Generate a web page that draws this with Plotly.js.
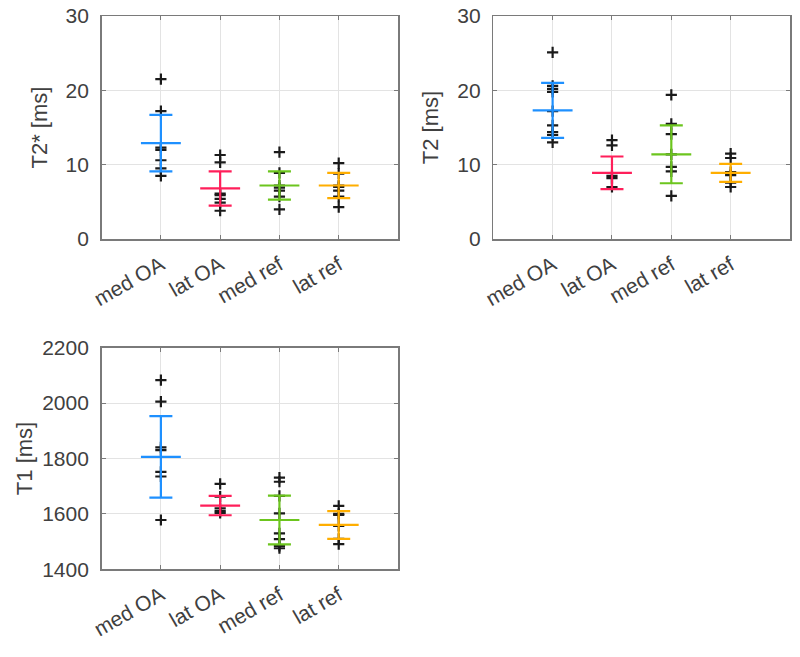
<!DOCTYPE html>
<html>
<head>
<meta charset="utf-8">
<script src="https://cdn.plot.ly/plotly-3.0.1.min.js"></script>
<style>html,body{margin:0;padding:0;background:#fff;}#chart{width:800px;height:657px;}</style>
</head>
<body>
<div id="chart"></div>
<script>
// Categories
const categories = ["med OA", "lat OA", "med ref", "lat ref"];
const groupColors = ["#1e90ff", "#ff1f5a", "#6cc51e", "#ffae00"];

// T2* [ms] individual values
const t2s_medOA = [21.5, 17.2, 12.3, 12.0, 10.6, 9.5, 8.5];
const t2s_latOA = [11.3, 10.3, 6.1, 5.9, 5.4, 4.9, 3.8];
const t2s_medRef = [11.7, 8.9, 7.2, 6.9, 6.5, 5.7, 4.0];
const t2s_latRef = [10.2, 8.8, 7.2, 7.0, 6.5, 5.7, 4.3];
const t2s_mean = [12.9, 6.8, 7.2, 7.2];
const t2s_sd = [3.8, 2.3, 1.9, 1.7];

// T2 [ms] individual values
const t2_medOA = [25.1, 20.6, 20.2, 19.8, 17.2, 15.3, 14.4, 14.0, 13.0];
const t2_latOA = [13.3, 12.6, 8.5, 8.2, 7.0];
const t2_medRef = [19.4, 15.5, 14.1, 11.4, 9.7, 9.1, 5.8];
const t2_latRef = [11.5, 10.9, 9.0, 8.6, 7.6, 7.0];
const t2_mean = [17.3, 8.9, 11.4, 8.9];
const t2_sd = [3.7, 2.2, 3.9, 1.2];

// T1 [ms] individual values
const t1_medOA = [2083, 2005, 1840, 1830, 1752, 1735, 1578];
const t1_latOA = [1708, 1662, 1620, 1610, 1604];
const t1_medRef = [1731, 1716, 1665, 1602, 1530, 1509, 1484, 1476];
const t1_latRef = [1629, 1600, 1596, 1557, 1510, 1491];
const t1_mean = [1806, 1630, 1578, 1560];
const t1_sd = [147, 35, 88, 50];

const panels = [
  {groups: [t2s_medOA, t2s_latOA, t2s_medRef, t2s_latRef], mean: t2s_mean, sd: t2s_sd, xa: "x", ya: "y"},
  {groups: [t2_medOA, t2_latOA, t2_medRef, t2_latRef], mean: t2_mean, sd: t2_sd, xa: "x2", ya: "y2"},
  {groups: [t1_medOA, t1_latOA, t1_medRef, t1_latRef], mean: t1_mean, sd: t1_sd, xa: "x3", ya: "y3"}
];

const traces = [];
panels.forEach(p => {
  const xs = [], ys = [];
  p.groups.forEach((g, i) => g.forEach(v => { xs.push(categories[i]); ys.push(v); }));
  traces.push({
    type: "scatter", mode: "markers", x: xs, y: ys, xaxis: p.xa, yaxis: p.ya,
    marker: {symbol: "cross-thin", size: 8, color: "#000", line: {color: "#1a1a1a", width: 2.2}},
    showlegend: false, hoverinfo: "y"
  });
  categories.forEach((c, i) => {
    traces.push({
      type: "scatter", mode: "markers", x: [c], y: [p.mean[i]], xaxis: p.xa, yaxis: p.ya,
      marker: {symbol: "line-ew", size: 28.5, color: groupColors[i], line: {color: groupColors[i], width: 2.2}},
      error_y: {type: "data", array: [p.sd[i]], visible: true, color: groupColors[i], thickness: 2.2, width: 11.5},
      showlegend: false
    });
  });
});

const fontFam = "Liberation Sans, Arial, sans-serif";
const tickFont = {family: fontFam, size: 21, color: "#404040"};
function xax(domain, anchor) {
  return {
    domain: domain, anchor: anchor, type: "category", categoryorder: "array", categoryarray: categories,
    range: [-1, 4], showgrid: true, gridcolor: "#e3e3e3", gridwidth: 1,
    showline: true, linecolor: "#7a7a7a", linewidth: 1.5, mirror: "ticks",
    ticks: "inside", ticklen: 4, tickcolor: "#7a7a7a", tickangle: -30, ticklabelstandoff: 4,
    tickfont: tickFont, zeroline: false, fixedrange: true
  };
}
function yax(domain, anchor, range, dtick, title, standoff) {
  return {
    domain: domain, anchor: anchor, range: range, dtick: dtick, tick0: range[0],
    showgrid: true, gridcolor: "#e3e3e3", gridwidth: 1,
    showline: true, linecolor: "#7a7a7a", linewidth: 1.5, mirror: "ticks",
    ticks: "inside", ticklen: 4, tickcolor: "#7a7a7a", ticklabelstandoff: 7,
    tickfont: tickFont, zeroline: false, fixedrange: true,
    title: {text: title, font: {family: fontFam, size: 22, color: "#404040"}, standoff: standoff}
  };
}

const layout = {
  width: 800, height: 657,
  margin: {l: 0, r: 0, t: 0, b: 0},
  paper_bgcolor: "#fff", plot_bgcolor: "#fff",
  showlegend: false,
  xaxis: xax([0.127, 0.4975], "y"),
  yaxis: yax([0.6362, 0.9756], "x", [0, 30], 10, "T2* [ms]", 12),
  xaxis2: xax([0.6166, 0.9875], "y2"),
  yaxis2: yax([0.6362, 0.9756], "x2", [0, 30], 10, "T2 [ms]", 12),
  xaxis3: xax([0.127, 0.4975], "y3"),
  yaxis3: yax([0.1335, 0.4708], "x3", [1400, 2200], 200, "T1 [ms]", 3)
};

Plotly.newPlot("chart", traces, layout, {displayModeBar: false, staticPlot: true});
</script>
</body>
</html>
